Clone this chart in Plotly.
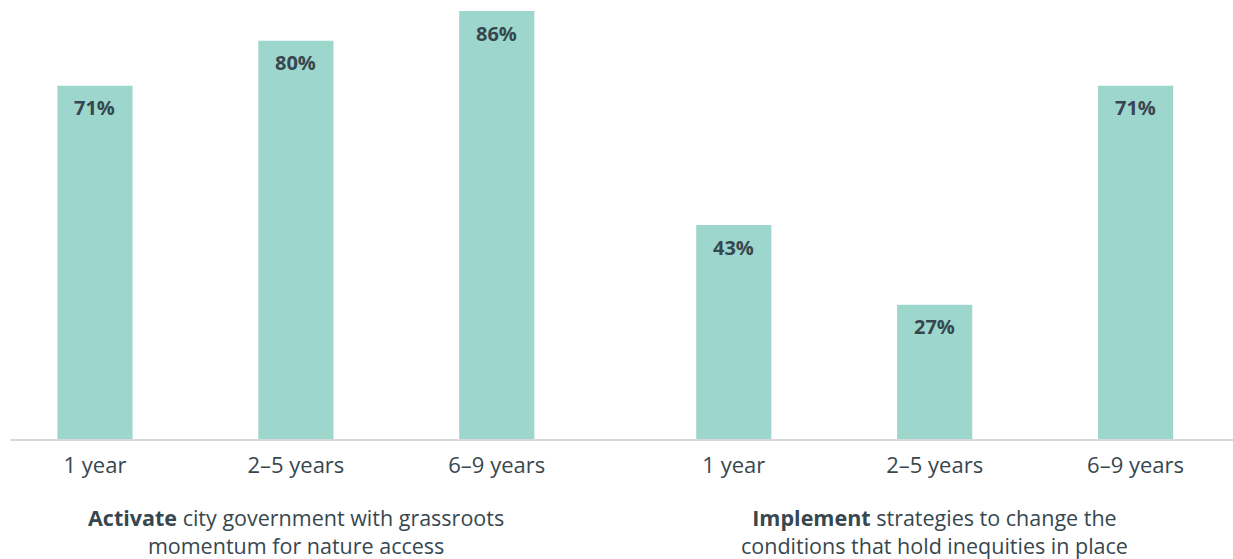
import plotly.graph_objects as go

groups = ["<b>Activate</b> city government with grassroots<br>momentum for nature access",
          "<b>Implement</b> strategies to change the<br>conditions that hold inequities in place"]
periods = ["1 year", "2–5 years", "6–9 years"]
activate_vals = [71, 80, 86]
implement_vals = [43, 27, 71]

group_gap = 3.18
xs, ys, labels = [], [], []
for gi, vals in enumerate([activate_vals, implement_vals]):
    for pi, v in enumerate(vals):
        xs.append(gi * group_gap + pi)
        ys.append(v)
        labels.append(periods[pi])

BAR = "#9dd6cc"
TXT = "#37474f"
FONT = "'Open Sans', Lato, sans-serif"

fig = go.Figure()
fig.add_trace(go.Bar(x=xs, y=ys, width=0.374, marker=dict(color=BAR, line=dict(width=0)),
                     hoverinfo="skip"))

for x, v in zip(xs, ys):
    fig.add_annotation(x=x, y=v, text=f"<b>{v}%</b>", showarrow=False, yanchor="middle",
                       yshift=-22, font=dict(family=FONT, size=20, color=TXT))

for gi, g in enumerate(groups):
    fig.add_annotation(x=gi * group_gap + 1, y=0, yref="y", text=g, showarrow=False,
                       yanchor="top", yshift=-62, align="center",
                       font=dict(family=FONT, size=21.5, color=TXT))

fig.update_layout(
    width=1233, height=559,
    margin=dict(l=10, r=0, t=11, b=120),
    paper_bgcolor="white", plot_bgcolor="white",
    showlegend=False,
    xaxis=dict(range=[-0.423, 5.665], tickvals=xs, ticktext=labels, showgrid=False,
               zeroline=False, showline=True, linecolor="#d9d9d9", linewidth=2,
               ticks="", ticklabelstandoff=6,
               tickfont=dict(family=FONT, size=22, color=TXT), fixedrange=True),
    yaxis=dict(range=[0, 86], visible=False, fixedrange=True),
)

fig.write_html("out.html")
